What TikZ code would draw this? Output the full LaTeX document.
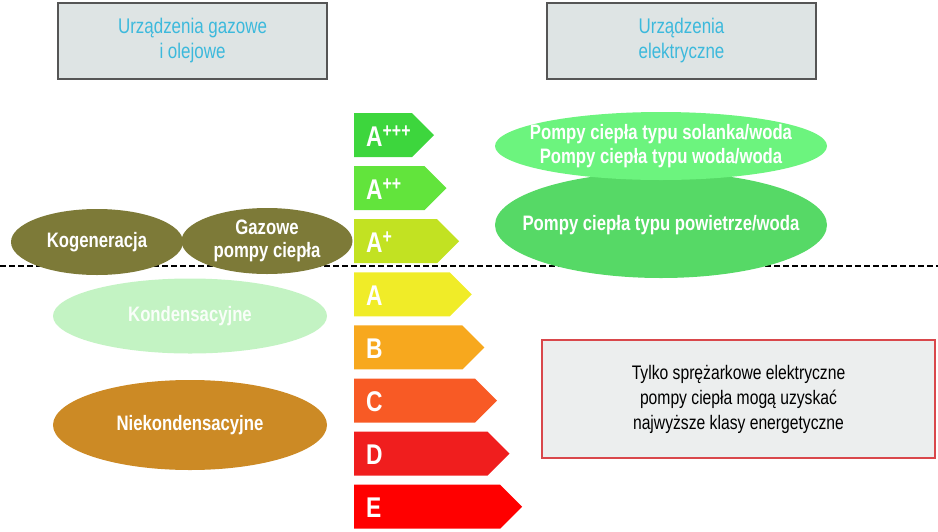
\documentclass[tikz,border=0pt]{standalone}
\usepackage{fontspec}
\setmainfont{Liberation Sans}[FakeStretch=0.8]
\usetikzlibrary{shapes.geometric}
\definecolor{boxfill}{HTML}{DEE4E4}
\definecolor{boxline}{HTML}{555555}
\definecolor{cyantxt}{HTML}{3CB9DC}
\definecolor{olive}{HTML}{7D7A38}
\definecolor{kond}{HTML}{C3F3C3}
\definecolor{niek}{HTML}{CC8A25}
\definecolor{elA}{HTML}{6CF47E}
\definecolor{elB}{HTML}{56D966}
\definecolor{redbox}{HTML}{D9474B}
\definecolor{redfill}{HTML}{ECEEEE}
\definecolor{cA3}{HTML}{3DD63D}
\definecolor{cA2}{HTML}{62E43C}
\definecolor{cA1}{HTML}{C2E222}
\definecolor{cA}{HTML}{F0EC28}
\definecolor{cB}{HTML}{F7A81E}
\definecolor{cC}{HTML}{F85A25}
\definecolor{cD}{HTML}{F01E1E}
\definecolor{cE}{HTML}{FF0000}
\tikzset{
  headbox/.style={draw=boxline, line width=1.2pt, fill=boxfill, minimum width=269pt, minimum height=76pt, inner sep=0pt, align=center, text=cyantxt, font=\fontsize{21.2}{25}\selectfont},
  blob/.style={ellipse, inner sep=0pt},
  blobtxt/.style={align=center, text=white, inner sep=0pt, font=\bfseries\fontsize{20.9}{23.5}\selectfont},
  lettr/.style={anchor=west, text=white, font=\bfseries\fontsize{28.5}{28}\selectfont, inner sep=0pt},
}
\begin{document}
\begin{tikzpicture}[x=1pt,y=-1pt]
\useasboundingbox (0,0) rectangle (938,531);
% header boxes
\node[headbox] (gas) at (192.5,41) {Urządzenia gazowe\\i olejowe};
\node[headbox] (el) at (681.5,41) {Urządzenia\\elektryczne};
% dashed separator
\coordinate (dl) at (0,266);
\coordinate (dr) at (938,266);
\draw[line width=1.2pt, dash pattern=on 6pt off 3pt] (dl) -- (dr);
% energy class arrows
\foreach \i/\lab/\col in {0/A\textsuperscript{+++}/cA3,1/A\textsuperscript{++}/cA2,2/A\textsuperscript{+}/cA1,3/A/cA,4/B/cB,5/C/cC,6/D/cD,7/E/cE}{
  \pgfmathsetmacro{\yt}{113+53.1*\i}
  \pgfmathsetmacro{\yb}{\yt+44}
  \pgfmathsetmacro{\ym}{\yt+22}
  \pgfmathsetmacro{\xt}{434+12.6*\i}
  \pgfmathsetmacro{\xb}{\xt-22}
  \fill[\col] (354,\yt) -- (\xb,\yt) -- (\xt,\ym) -- (\xb,\yb) -- (354,\yb) -- cycle;
  \node[lettr] (cls\i) at (366,\ym+1) {\lab};
}
% left ellipses
\node[blob, fill=olive, minimum width=172pt, minimum height=66pt] (kog) at (97,242) {};
\node[blobtxt] (kogt) at (kog) {Kogeneracja};
\node[blob, fill=olive, minimum width=171pt, minimum height=66pt] (gpc) at (267,241) {};
\node[blobtxt] (gpct) at (gpc) {Gazowe\\pompy ciepła};
\node[blob, fill=kond, minimum width=274pt, minimum height=75pt] (kon) at (190,316) {};
\node[blobtxt, text=white!90!kond] (kont) at (kon) {Kondensacyjne};
\node[blob, fill=niek, minimum width=274pt, minimum height=90pt] (nie) at (190,425) {};
\node[blobtxt] (niet) at (nie) {Niekondensacyjne};
% right ellipses
\node[blob, fill=elB, minimum width=332pt, minimum height=106pt] (pw) at (661,225) {};
\node[blobtxt] (pwt) at (pw) {Pompy ciepła typu powietrze/woda};
\node[blob, fill=elA, minimum width=332pt, minimum height=68pt] (sw) at (661,146) {};
\node[blobtxt] (swt) at (sw) {Pompy ciepła typu solanka/woda\\Pompy ciepła typu woda/woda};
% note box
\node[draw=redbox, line width=1.2pt, fill=redfill, minimum width=393pt, minimum height=118pt, inner sep=0pt, align=center, font=\fontsize{19.6}{25}\selectfont] (note) at (738.5,399) {Tylko sprężarkowe elektryczne\\pompy ciepła mogą uzyskać\\najwyższe klasy energetyczne};
\end{tikzpicture}
\end{document}
